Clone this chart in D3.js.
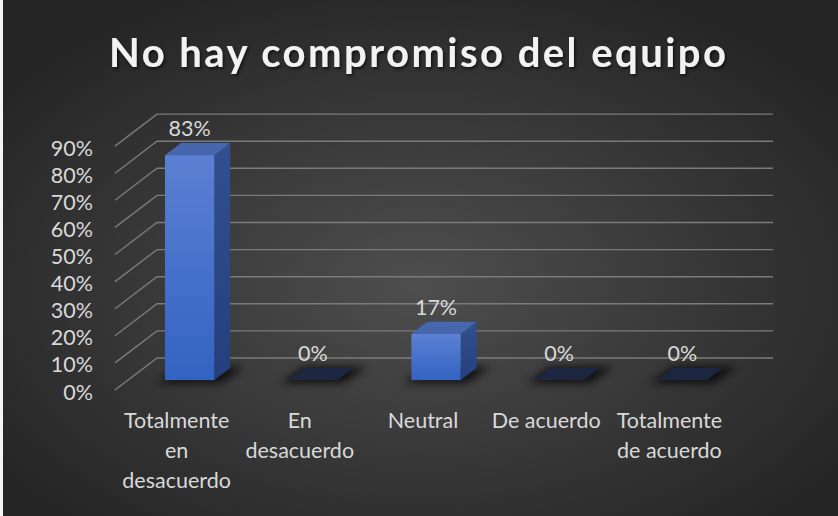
<!DOCTYPE html>
<html>
<head>
<meta charset="utf-8">
<script src="https://cdn.jsdelivr.net/npm/d3@7"></script>
<style>
  html, body { margin: 0; padding: 0; background: #262626; }
  svg { display: block; }
  text { font-family: Lato, "Open Sans", sans-serif; }
</style>
</head>
<body>
<svg id="chart"></svg>
<script>
// chart data
const categories = ["Totalmente en desacuerdo", "En desacuerdo", "Neutral", "De acuerdo", "Totalmente de acuerdo"];
const values = [0.83, 0, 0.17, 0, 0];
const yTicks = [0, 0.1, 0.2, 0.3, 0.4, 0.5, 0.6, 0.7, 0.8, 0.9];
const title = "No hay compromiso del equipo";

const width = 838, height = 516;
const labelSize = 21.5;

const svg = d3.select("#chart")
    .attr("width", width)
    .attr("height", height);

const defs = svg.append("defs");

// background radial gradient
const bg = defs.append("radialGradient")
    .attr("id", "bgGrad")
    .attr("cx", "50%").attr("cy", "55%").attr("r", "62%");
bg.append("stop").attr("offset", "0%").attr("stop-color", "#4e4e4e");
bg.append("stop").attr("offset", "100%").attr("stop-color", "#252525");

// bar face gradients
const front = defs.append("linearGradient").attr("id", "frontGrad")
    .attr("x1", 0).attr("y1", 0).attr("x2", 0).attr("y2", 1);
front.append("stop").attr("offset", "0%").attr("stop-color", "#5b80d3");
front.append("stop").attr("offset", "100%").attr("stop-color", "#3363c2");

const side = defs.append("linearGradient").attr("id", "sideGrad")
    .attr("x1", 0).attr("y1", 0).attr("x2", 0).attr("y2", 1);
side.append("stop").attr("offset", "0%").attr("stop-color", "#324f8f");
side.append("stop").attr("offset", "100%").attr("stop-color", "#243f7c");

defs.append("filter").attr("id", "blur")
    .attr("x", "-50%").attr("y", "-100%").attr("width", "200%").attr("height", "300%")
  .append("feGaussianBlur").attr("stdDeviation", 4);

const ts = defs.append("filter").attr("id", "titleShadow")
    .attr("x", "-10%").attr("y", "-30%").attr("width", "120%").attr("height", "160%");
ts.append("feDropShadow").attr("dx", 1.5).attr("dy", 2).attr("stdDeviation", 1.5)
    .attr("flood-color", "#000").attr("flood-opacity", 0.6);

svg.append("rect")
    .attr("width", width).attr("height", height)
    .attr("fill", "url(#bgGrad)");
// thin light edge on the left as in the picture
svg.append("rect").attr("x", 0).attr("y", 0).attr("width", 3).attr("height", height).attr("fill", "#f4f4f4");

// ---- layout: oblique 3D projection
const front0 = 115, front1 = 731;
const depth = { dx: 42, dy: -32 };     // full floor depth
const barD0 = 0.31, barD1 = 0.69;      // bar position inside depth

const x = d3.scaleBand()
    .domain(categories)
    .range([front0, front1])
    .paddingInner(0.6)
    .paddingOuter(0.3);

const y = d3.scaleLinear()
    .domain([0, 0.9])
    .range([390, 146.1]);

// ---- title
svg.append("text")
    .attr("x", 109).attr("y", 67)
    .attr("font-size", 40)
    .attr("font-weight", 700)
    .attr("textLength", 617)
    .attr("lengthAdjust", "spacing")
    .attr("fill", "#f2f2f2")
    .attr("filter", "url(#titleShadow)")
    .text(title);

// ---- gridlines (side wall diagonal + back wall)
const grid = svg.append("g").attr("fill", "none")
    .attr("stroke", "#7b7b7b").attr("stroke-width", 1.4);
yTicks.forEach(t => {
    const yf = y(t);
    grid.append("path")
        .attr("d", `M${front0},${yf} L${front0 + depth.dx},${yf + depth.dy} L${front1 + depth.dx},${yf + depth.dy}`);
});

// y tick labels
svg.append("g").selectAll("text")
    .data(yTicks)
    .join("text")
    .attr("x", 93)
    .attr("y", d => y(d) + 2)
    .attr("dy", "0.35em")
    .attr("text-anchor", "end")
    .attr("font-size", labelSize)
    .attr("fill", "#d9d9d9")
    .text(d => d3.format(".0%")(d));

// ---- bars
const bars = svg.append("g");
categories.forEach((c, i) => {
    const v = values[i];
    const bw = x.bandwidth();
    const ox0 = depth.dx * barD0, oy0 = depth.dy * barD0;
    const ox1 = depth.dx * barD1, oy1 = depth.dy * barD1;
    const xl = x(c) + ox0, xr = xl + bw;
    const yb = y(0) + oy0, yt = y(v) + oy0;
    const sx = ox1 - ox0, sy = oy1 - oy0;

    // floor shadow
    bars.append("path")
        .attr("d", `M${xl - 8},${yb + 3} L${xr + 6},${yb + 3} L${xr + sx + 14},${yb + sy - 1} L${xl + sx},${yb + sy - 1} Z`)
        .attr("fill", "#000").attr("opacity", 0.75)
        .attr("filter", "url(#blur)");

    if (v === 0) {
        bars.append("path")
            .attr("d", `M${xl},${yb} L${xr},${yb} L${xr + sx},${yb + sy} L${xl + sx},${yb + sy} Z`)
            .attr("fill", "#1d2640");
    } else {
        // side face
        bars.append("path")
            .attr("d", `M${xr},${yb} L${xr + sx},${yb + sy} L${xr + sx},${yt + sy} L${xr},${yt} Z`)
            .attr("fill", "url(#sideGrad)");
        // top face
        bars.append("path")
            .attr("d", `M${xl},${yt} L${xr},${yt} L${xr + sx},${yt + sy} L${xl + sx},${yt + sy} Z`)
            .attr("fill", "#4666ad");
        // front face
        bars.append("rect")
            .attr("x", xl).attr("y", yt)
            .attr("width", bw).attr("height", yb - yt)
            .attr("fill", "url(#frontGrad)");
    }

    // data label
    svg.append("text")
        .attr("x", xl + bw / 2)
        .attr("y", yt + sy - 7)
        .attr("text-anchor", "middle")
        .attr("font-size", labelSize)
        .attr("fill", "#d9d9d9")
        .text(d3.format(".0%")(v));
});

// ---- category labels (wrapped)
const catG = svg.append("g");
categories.forEach(c => {
    const cx = x(c) + x.bandwidth() / 2;
    const t = catG.append("text")
        .attr("x", cx)
        .attr("y", 428)
        .attr("text-anchor", "middle")
        .attr("font-size", labelSize)
        .attr("fill", "#d9d9d9");
    const words = c.split(" ");
    let line = [];
    let tspan = t.append("tspan").attr("x", cx).attr("dy", 0);
    words.forEach(w => {
        line.push(w);
        tspan.text(line.join(" "));
        if (tspan.node().getComputedTextLength() > 118 && line.length > 1) {
            line.pop();
            tspan.text(line.join(" "));
            line = [w];
            tspan = t.append("tspan").attr("x", cx).attr("dy", 30).text(w);
        }
    });
});
</script>
</body>
</html>
